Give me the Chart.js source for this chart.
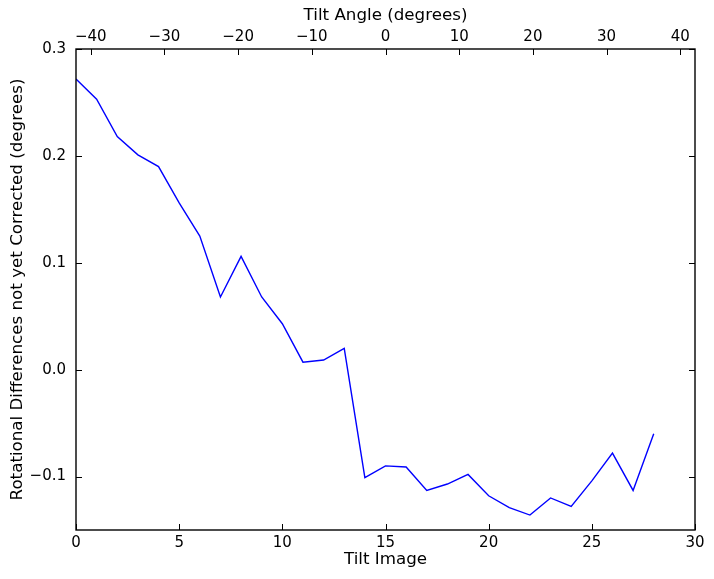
<!DOCTYPE html>
<html><head><meta charset="utf-8">
<script src="https://cdn.jsdelivr.net/npm/chart.js@4/dist/chart.umd.min.js"></script>
<style>html,body{margin:0;padding:0;background:#fff}#wrap{width:714px;height:579px}</style>
</head><body><div id="wrap"><canvas id="c" width="714" height="579"></canvas></div>
<script>
const tiltImages = [0,1,2,3,4,5,6,7,8,9,10,11,12,13,14,15,16,17,18,19,20,21,22,23,24,25,26,27,28];
const rotationalDiff = [0.272,0.253,0.218,0.201,0.190,0.156,0.125,0.068,0.106,0.068,0.043,0.007,0.009,0.020,
  -0.101,-0.090,-0.091,-0.113,-0.107,-0.098,-0.118,-0.129,-0.136,-0.120,-0.128,-0.104,-0.078,-0.113,-0.060];
const bottomTicks = [0,5,10,15,20,25,30];
const topTicks = [-40,-30,-20,-10,0,10,20,30,40];
const yTicks = [-0.1,0.0,0.1,0.2,0.3];

const TICK_FONT = {family: "'DejaVu Sans', sans-serif", size: 15};
const TITLE_FONT = {family: "'DejaVu Sans', sans-serif", size: 16.7};
const minus = s => String(s).replace(/-/g, '\u2212');
const fixedTicks = arr => scale => { scale.ticks = arr.map(v => ({value: v})); };

const tickPlugin = {
  id: 'mplTicks',
  afterDraw(chart) {
    const {ctx, chartArea: a, scales} = chart;
    const L = 6;
    ctx.save();
    ctx.strokeStyle = '#000';
    ctx.lineWidth = 1;
    ctx.beginPath();
    bottomTicks.forEach(v => { const px = Math.round(scales.x.getPixelForValue(v)) + 0.5; ctx.moveTo(px, a.bottom); ctx.lineTo(px, a.bottom - L); });
    topTicks.forEach(v => { const px = Math.round(scales.x2.getPixelForValue(v)) + 0.5; ctx.moveTo(px, a.top); ctx.lineTo(px, a.top + L); });
    yTicks.forEach(v => { const py = Math.round(scales.y.getPixelForValue(v)) + 0.5; ctx.moveTo(a.left, py); ctx.lineTo(a.left + L, py); ctx.moveTo(a.right, py); ctx.lineTo(a.right - L, py); });
    ctx.stroke();
    ctx.lineWidth = 1.4;
    ctx.strokeRect(a.left, a.top, a.right - a.left, a.bottom - a.top);
    ctx.restore();
  }
};

const hiddenGrid = {drawOnChartArea: false, drawTicks: false};

new Chart(document.getElementById('c'), {
  type: 'line',
  data: {
    datasets: [{
      label: 'Rotational difference',
      data: tiltImages.map((x, i) => ({x: x, y: rotationalDiff[i]})),
      borderColor: '#0000ff',
      borderWidth: 1.4,
      pointRadius: 0,
      fill: false,
      tension: 0,
      xAxisID: 'x',
      yAxisID: 'y'
    }]
  },
  options: {
    responsive: false,
    animation: false,
    layout: {padding: 0},
    plugins: {legend: {display: false}, tooltip: {enabled: false}},
    scales: {
      x: {
        type: 'linear', position: 'bottom', min: 0, max: 30,
        afterBuildTicks: fixedTicks(bottomTicks),
        ticks: {font: TICK_FONT, color: '#000', padding: 4, maxRotation: 0, autoSkip: false, callback: v => minus(v)},
        grid: hiddenGrid, border: {display: false},
        title: {display: true, text: 'Tilt Image', font: TITLE_FONT, color: '#000', padding: {top: 0, bottom: 9}},
        afterFit: s => { s.height = 49; }
      },
      x2: {
        type: 'linear', position: 'top', min: -42, max: 42,
        afterBuildTicks: fixedTicks(topTicks),
        ticks: {font: TICK_FONT, color: '#000', padding: 3, maxRotation: 0, autoSkip: false, callback: v => minus(v)},
        grid: hiddenGrid, border: {display: false},
        title: {display: true, text: 'Tilt Angle (degrees)', font: TITLE_FONT, color: '#000', padding: {top: 6, bottom: 0}},
        afterFit: s => { s.height = 49; }
      },
      y: {
        type: 'linear', position: 'left', min: -0.15, max: 0.3,
        afterBuildTicks: fixedTicks(yTicks),
        ticks: {font: TICK_FONT, color: '#000', padding: 10, autoSkip: false, callback: v => minus(Number(v).toFixed(1))},
        grid: hiddenGrid, border: {display: false},
        title: {display: true, text: 'Rotational Differences not yet Corrected (degrees)', font: TITLE_FONT, color: '#000', padding: {top: 7.5, bottom: 0}},
        afterFit: s => { s.width = 76; }
      },
      y2: {
        type: 'linear', position: 'right', min: -0.15, max: 0.3,
        ticks: {display: false},
        grid: hiddenGrid, border: {display: false},
        afterFit: s => { s.width = 19; }
      }
    }
  },
  plugins: [tickPlugin]
});
</script>
</body></html>
